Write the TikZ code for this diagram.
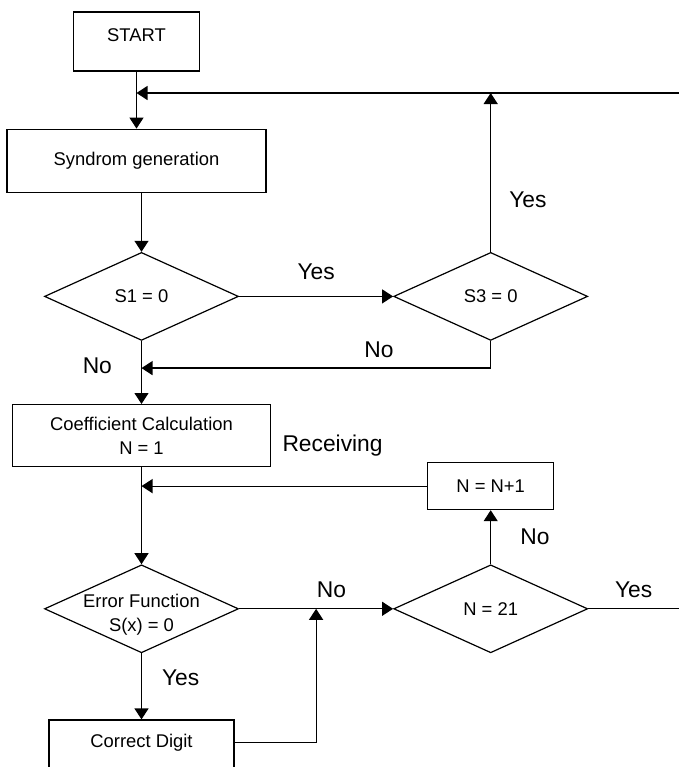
\documentclass[tikz,border=0pt]{standalone}
\usepackage{fontspec}
\setmainfont{Liberation Sans}
\usepackage{tikz}
\usetikzlibrary{positioning,arrows.meta,shapes,calc}
\tikzset{
  blk/.style={draw,line width=0.6pt,minimum width=129.5pt,minimum height=31.5pt,
            align=center,font=\fontsize{9.2}{12}\selectfont,fill=white},
  dec/.style={blk,diamond,aspect=2.2,minimum width=97pt,minimum height=44pt,inner sep=0pt},
  lbl/.style={inner sep=0pt,font=\fontsize{11.4}{13.7}\selectfont},
  flow/.style={->,>={Triangle[length=5.5pt,width=7pt]},line width=0.6pt},
  plain/.style={line width=0.6pt},
}
\begin{document}
\begin{tikzpicture}[x=0.5pt,y=-0.5pt]
  \useasboundingbox (0,0) rectangle (679,767);
  \node[blk,minimum width=63pt,minimum height=29.5pt,text depth=6.5pt] (start) at (136.5,41.5) {START};
  \node[blk,below=28.5pt of start] (syn) {Syndrom generation};
  \node[dec,below=29.5pt of syn,xshift=2.5pt] (s1) {S1 = 0};
  \node[dec,right=77pt of s1] (s3) {S3 = 0};
  \node[blk,minimum width=129pt,minimum height=31pt,below=31.5pt of s1] (coef)
        {Coefficient Calculation\\N = 1};
  \node[lbl,right=5.5pt of coef.east,yshift=-5pt] (recv) {Receiving};
  \node[dec,inner xsep=0pt,inner ysep=-6pt,text height=24.7pt,below=48.5pt of coef] (err)
        {Error Function\\S(x) = 0};
  \node[dec,right=77pt of err] (n21) {N = 21};
  \node[blk,minimum width=63pt,minimum height=23.5pt,above=27pt of n21] (nn1) {N = N+1};
  \node[blk,minimum width=92.5pt,text depth=10.6pt,below=33pt of err] (correct) {Correct Digit};
  % loop back points at the right edge and on the crossing lines
  \coordinate (loopin) at (679,93);
  \coordinate (yesout) at (n21.east -| loopin);
  \coordinate (nojoin) at ($(s1.south)!0.43!(coef.north)$);
  \coordinate (digjoin) at ($(err.east)!0.5!(n21.west)$);
  \draw[flow] (start) -- (syn);
  \draw[flow] (loopin) -- (loopin -| start.south);
  \draw[flow] (s1 |- syn.south) -- (s1);
  \draw[flow] (s1) -- node[lbl,above=8pt]{Yes} (s3);
  \draw[flow] (s3) -- node[lbl,pos=0.33,right=9pt]{Yes} (s3 |- loopin);
  \draw[flow] (s3.south) |- node[lbl,pos=0.66,above=5pt]{No} (nojoin);
  \draw[flow] (s1) -- node[lbl,pos=0.39,left=14.5pt]{No} (coef);
  \draw[flow] (coef) -- (err);
  \draw[flow] (nn1) -- (nn1.west -| coef.south);
  \draw[flow] (n21) -- node[lbl,right=14.5pt]{No} (nn1);
  \draw[flow] (err) -- node[lbl,pos=0.6,above=5pt]{No} (n21);
  \draw[plain] (n21) -- node[lbl,above=5pt]{Yes} (yesout);
  \draw[flow] (err) -- node[lbl,pos=0.37,right=10pt]{Yes} (correct);
  \draw[flow] (correct.mid east) -| (digjoin);
\end{tikzpicture}
\end{document}
